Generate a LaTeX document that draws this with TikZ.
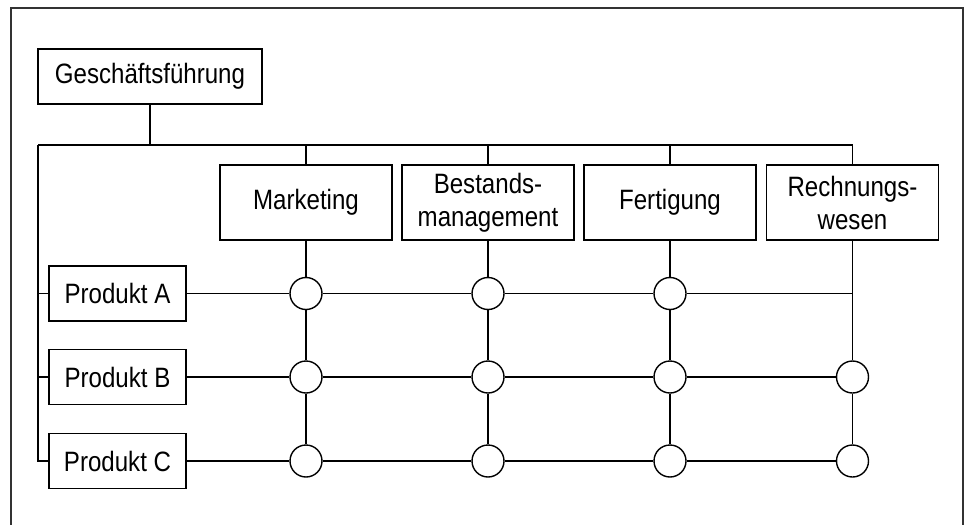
\documentclass[tikz,border=0pt]{standalone}
\usepackage{fontspec}
\setmainfont{Liberation Sans}[FakeStretch=0.86]
\begin{document}
\begin{tikzpicture}[
    x=0.5pt, y=-0.5pt,
    line width=0.7pt,
    every node/.style={font=\fontsize{14}{16.5}\selectfont},
    box/.style={draw, inner sep=0pt, align=center},
    leitung/.style={box, minimum width=112pt, minimum height=27.5pt},
    abteilung/.style={box, minimum width=86pt, minimum height=37.5pt},
    produkt/.style={box, minimum width=68.5pt, minimum height=27.5pt},
    knoten/.style={draw, circle, fill=white, inner sep=0pt, minimum size=16pt},
    rahmen/.style={draw=black!80, line width=1pt}
  ]
  \useasboundingbox (0,0) rectangle (965,525);
  \draw[rahmen] (11,525) |- (963,8) -- (963,525);

  \node[leitung] (gf) at (150,76.5) {Geschäftsführung};
  \node[abteilung] (mk) at (306,202.5) {Marketing};
  \node[abteilung] (bm) at (488,202.5) {Bestands-\\management};
  \node[abteilung] (fe) at (670,202.5) {Fertigung};
  \node[abteilung] (rw) at (852.5,202.5) {Rechnungs-\\wesen};
  \node[produkt] (pa) at (117.5,293.5) {Produkt A};
  \node[produkt] (pb) at (117.5,377) {Produkt B};
  \node[produkt] (pc) at (117.5,461) {Produkt C};

  % Verbindungen von oben
  \coordinate (bus) at (150,145);
  \coordinate (busl) at (38,145);
  \coordinate (busr) at (rw.north |- bus);
  \draw (gf.south) -- (bus);
  \draw (busl) -- (busr);
  \foreach \a in {mk,bm,fe,rw}
    \draw (\a.north |- bus) -- (\a.north);
  \draw (busl) |- (pc.west);
  \foreach \p in {pa,pb}
    \draw (busl |- \p) -- (\p.west);

  % Matrix
  \foreach \a in {mk,bm,fe}
    \foreach \p in {pa,pb,pc}
      \node[knoten] (k-\a-\p) at (\a |- \p) {};
  \foreach \p in {pb,pc}
    \node[knoten] (k-rw-\p) at (rw |- \p) {};
  \coordinate (rw-pa) at (rw |- pa);

  \draw (pa) -- (k-mk-pa) -- (k-bm-pa) -- (k-fe-pa) -- (rw-pa);
  \draw (pb) -- (k-mk-pb) -- (k-bm-pb) -- (k-fe-pb) -- (k-rw-pb);
  \draw (pc) -- (k-mk-pc) -- (k-bm-pc) -- (k-fe-pc) -- (k-rw-pc);
  \foreach \a in {mk,bm,fe}
    \draw (\a) -- (k-\a-pa) -- (k-\a-pb) -- (k-\a-pc);
  \draw (rw) -- (k-rw-pb) -- (k-rw-pc);
\end{tikzpicture}
\end{document}
